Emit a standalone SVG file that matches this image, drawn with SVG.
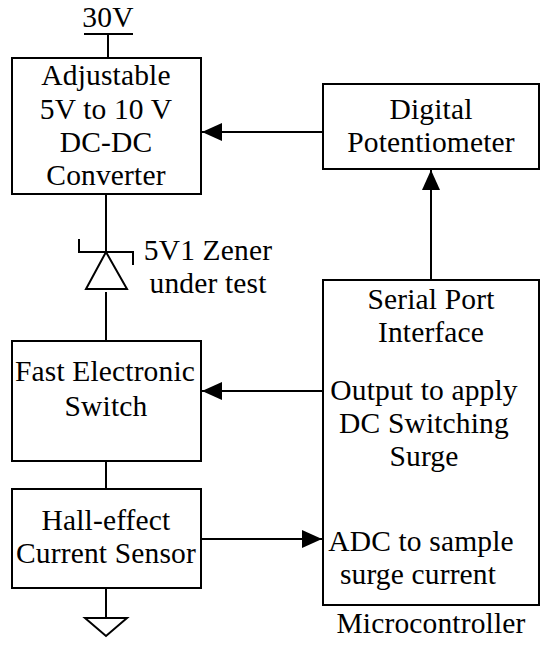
<svg xmlns="http://www.w3.org/2000/svg" width="550" height="645" viewBox="0 0 550 645">
<defs><marker id="a" markerUnits="userSpaceOnUse" markerWidth="20" markerHeight="20" refX="20" refY="9" orient="auto"><path d="M0 0L20 9L0 18Z" fill="#000"/></marker></defs>
<style>.b{fill:#fff;stroke:#000;stroke-width:2}.l{fill:none;stroke:#000;stroke-width:2}text{font-family:"Liberation Serif","Times New Roman",serif;font-size:29.5px;letter-spacing:.15px;text-anchor:middle;fill:#000}</style>
<rect width="550" height="645" fill="#fff"/>
<g id="connectors">
<path class="l" d="M108 34V58M84 34H133M106 194V252M106 292V341M106 461V489M106 588V618M85 618H127L106 636Z"/>
<path class="l" d="M323 132H202" marker-end="url(#a)"/>
<path class="l" d="M431 280V170" marker-end="url(#a)"/>
<path class="l" d="M330 391H202" marker-end="url(#a)"/>
<path class="l" d="M201 539H322" marker-end="url(#a)"/>
<path class="l" d="M86 289H127L106 252ZM79 239V252H133V265"/>
</g>
<g id="supply"><text x="108" y="27">30V</text></g>
<g id="converter"><rect class="b" x="12" y="58" width="189" height="136"/><text x="106" y="85">Adjustable</text><text x="106" y="119">5V to 10 V</text><text x="106" y="152">DC-DC</text><text x="106" y="185">Converter</text></g>
<g id="potentiometer"><rect class="b" x="323" y="84" width="216" height="85"/><text x="431" y="119">Digital</text><text x="431" y="152">Potentiometer</text></g>
<g id="zener"><text x="208" y="260">5V1 Zener</text><text x="208" y="293">under test</text></g>
<g id="switch"><rect class="b" x="12" y="341" width="189" height="120"/><text x="105" y="381">Fast Electronic</text><text x="106" y="416">Switch</text></g>
<g id="sensor"><rect class="b" x="12" y="489" width="189" height="99"/><text x="106" y="530">Hall-effect</text><text x="106" y="563">Current Sensor</text></g>
<g id="microcontroller"><rect class="b" x="323" y="280" width="216" height="325"/><text x="431" y="309">Serial Port</text><text x="431" y="342">Interface</text><text x="424" y="400">Output to apply</text><text x="424" y="433">DC Switching</text><text x="424" y="466">Surge</text><text x="421" y="551">ADC to sample</text><text x="418" y="584">surge current</text><text x="431" y="633">Microcontroller</text></g>
</svg>
